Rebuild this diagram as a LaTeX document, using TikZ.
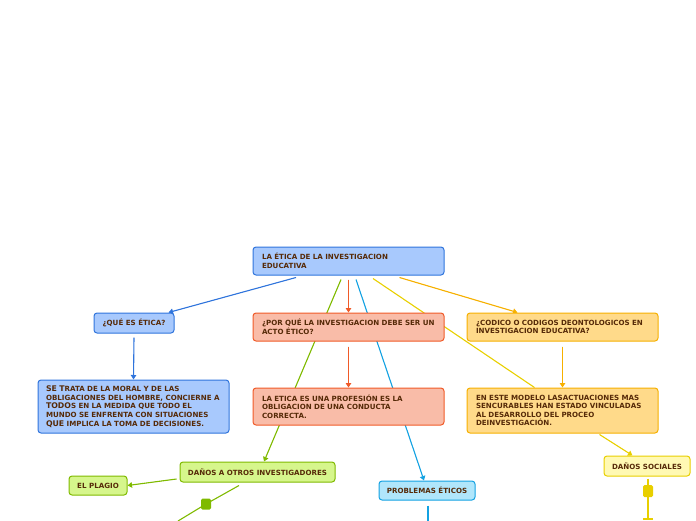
\documentclass[tikz,border=0pt]{standalone}
\usepackage{fontspec}
\newfontfamily\dvs{DejaVu Sans}
\usetikzlibrary{arrows.meta}
\pgfdeclarelayer{bg}
\pgfsetlayers{bg,main}
\definecolor{txt}{HTML}{562A08}
\definecolor{bfill}{HTML}{A8C9FD}\definecolor{bline}{HTML}{2F74DC}
\definecolor{rfill}{HTML}{F9BCA8}\definecolor{rline}{HTML}{F05A28}
\definecolor{ofill}{HTML}{FFDA8A}\definecolor{oline}{HTML}{F6B000}
\definecolor{gfill}{HTML}{D6F68C}\definecolor{gline}{HTML}{7FBA00}
\definecolor{cfill}{HTML}{B0E6FB}\definecolor{cline}{HTML}{14A2E2}
\definecolor{yfill}{HTML}{FFF9B3}\definecolor{yline}{HTML}{E8CF00}
\newcommand\rowx[1]{\mbox{#1}}
\begin{document}
\begin{tikzpicture}[x=1pt,y=-1pt,
  box/.style={draw, rounded corners=3pt, line width=1pt, text=txt, inner sep=0pt,
    font={\dvs\bfseries\fontsize{7.1}{8.6}\selectfont}},
  lbox/.style={box, align=left},
  cbox/.style={box, align=center},
  bluebox/.style={fill=bfill, draw=bline},
  redbox/.style={fill=rfill, draw=rline},
  orbox/.style={fill=ofill, draw=oline},
  grbox/.style={fill=gfill, draw=gline},
  cybox/.style={fill=cfill, draw=cline},
  yebox/.style={fill=yfill, draw=yline},
  con/.style={line width=1.1pt},
  arr/.style={con, -{Triangle[width=5.5pt,length=4.5pt]}},
  sq/.style={rounded corners=1.5pt, inner sep=0pt}
]
\useasboundingbox (0,0) rectangle (696,520);

\node[lbox,bluebox,minimum width=191pt,minimum height=28pt,text width=173pt] (root) at (348.5,261)
  {\rowx{LA ÉTICA DE LA INVESTIGACION}\\\rowx{EDUCATIVA}};
\node[cbox,bluebox,minimum width=80pt,minimum height=20pt] (que) at (134,323) {¿QUÉ ES ÉTICA?};
\node[lbox,redbox,minimum width=191pt,minimum height=28pt,text width=173pt] (porque) at (348.5,327)
  {\rowx{¿POR QUÉ LA INVESTIGACION DEBE SER UN}\\\rowx{ACTO ÉTICO?}};
\node[lbox,orbox,minimum width=191pt,minimum height=28pt,text width=173pt] (codico) at (562.5,327)
  {\rowx{¿CODICO O CODIGOS DEONTOLOGICOS EN}\\\rowx{INVESTIGACION EDUCATIVA?}};
\node[lbox,bluebox,minimum width=191pt,minimum height=53pt,text width=175pt] (setrata) at (133.5,406.5)
  {\rowx{{\fontsize{7.8}{8.6}\selectfont SE T}RATA DE LA MORAL Y DE LAS}\\
   \rowx{OBLIGACIONES DEL HOMBRE, CONCIERNE A}\\
   \rowx{{\fontsize{7.8}{8.6}\selectfont TODO}S EN LA MEDIDA QUE TODO EL}\\
   \rowx{MUNDO SE ENFRENTA CON SITUACIONES}\\
   \rowx{{\fontsize{7.8}{8.6}\selectfont QUE} IMPLICA LA TOMA DE DECISIONES.}};
\node[lbox,redbox,minimum width=191pt,minimum height=37pt,text width=173pt] (laetica) at (348.5,406.5)
  {\rowx{LA ETICA ES UNA PROFESIÓN ES LA}\\\rowx{OBLIGACION DE UNA CONDUCTA}\\\rowx{CORRECTA.}};
\node[lbox,orbox,minimum width=191pt,minimum height=45pt,text width=173pt] (enes) at (562.5,410.5)
  {\rowx{EN ESTE MODELO LASACTUACIONES MAS}\\\rowx{SENCURABLES HAN ESTADO VINCULADAS}\\\rowx{AL DESARROLLO DEL PROCEO}\\\rowx{DEINVESTIGACIÓN.}};
\node[cbox,grbox,minimum width=155pt,minimum height=20pt] (danos) at (257.5,472) {DAÑOS A OTROS INVESTIGADORES};
\node[cbox,grbox,minimum width=58pt,minimum height=19pt] (plagio) at (98,485.5) {EL PLAGIO};
\node[cbox,cybox,minimum width=96pt,minimum height=19pt] (problemas) at (427,490.5) {PROBLEMAS ÉTICOS};
\node[cbox,yebox,minimum width=86pt,minimum height=20pt] (ds) at (647,466) {DAÑOS SOCIALES};

\node[sq,fill=gline,minimum width=10pt,minimum height=11pt] (gsq) at (206,504) {};
\node[sq,fill=yline,minimum width=10pt,minimum height=12pt] (ysq) at (648,491) {};
\coordinate (gend) at (178,521);
\coordinate (cend) at (428,521);
\coordinate (yend) at (648,519);

\begin{pgfonlayer}{bg}
\draw[arr,draw=bline,fill=bline] ([xshift=-52.5pt,yshift=-2pt]root.south) -- ([xshift=-6pt]que.north east);
\draw[arr,draw=rline,fill=rline] ([yshift=-4pt]root.south) -- (porque.north);
\draw[arr,draw=gline,fill=gline] ([xshift=-7.5pt,yshift=-4pt]root.south) -- ([xshift=6.5pt]danos.north);
\draw[arr,draw=cline,fill=cline] ([xshift=7.5pt,yshift=-4pt]root.south) -- ([xshift=-3pt]problemas.north);
\draw[con,draw=yline] ([xshift=24.5pt,yshift=-3pt]root.south) -- ([xshift=68pt]enes.north west);
\draw[arr,draw=oline,fill=oline] ([xshift=-45pt,yshift=-2pt]root.south east) -- ([xshift=51pt]codico.north west);
\draw[arr,draw=bline,fill=bline] ([yshift=-4pt]que.south) -- (setrata.north);
\draw[arr,draw=rline,fill=rline] ([yshift=-5pt]porque.south) -- (laetica.north);
\draw[arr,draw=oline,fill=oline] ([yshift=-5pt]codico.south) -- (enes.north);
\draw[arr,draw=yline,fill=yline] ([xshift=133pt,yshift=-1pt]enes.south west) -- ([xshift=29pt]ds.north west);
\draw[arr,draw=gline,fill=gline] ([xshift=-3pt,yshift=-7pt]danos.west) -- (plagio.east);
\draw[con,draw=gline] ([xshift=-18.5pt,yshift=-3pt]danos.south) -- (gsq.center) -- (gend);
\draw[con,draw=cline] ([xshift=1pt,yshift=-5pt]problemas.south) -- (cend);
\draw[con,draw=yline] ([xshift=1pt,yshift=-2pt]ds.south) -- (ysq.center) -- (yend);
\draw[con,draw=yline] ([xshift=-5pt]yend) -- ([xshift=5pt]yend);
\end{pgfonlayer}
\end{tikzpicture}
\end{document}
